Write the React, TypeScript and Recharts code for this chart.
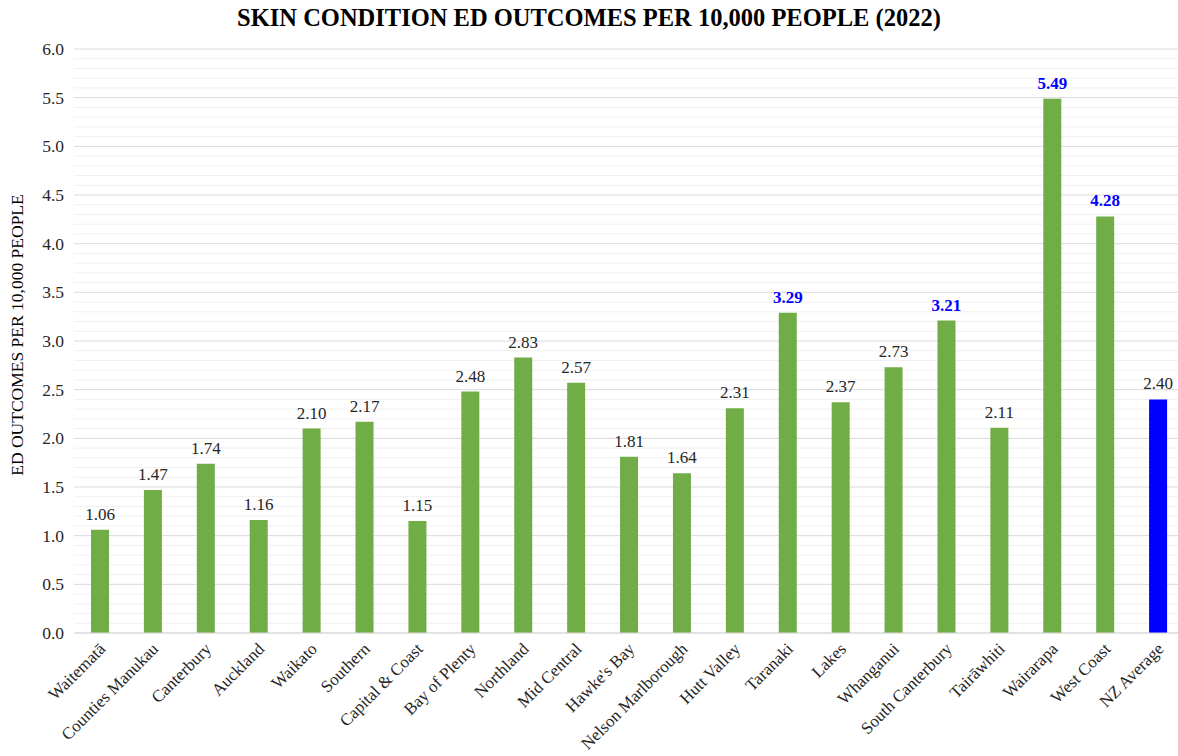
import { BarChart, Bar, XAxis, YAxis, CartesianGrid, LabelList, Cell } from 'recharts'

const regions = [
  'Waitematā', 'Counties Manukau', 'Canterbury', 'Auckland', 'Waikato', 'Southern',
  'Capital & Coast', 'Bay of Plenty', 'Northland', 'Mid Central', "Hawke's Bay",
  'Nelson Marlborough', 'Hutt Valley', 'Taranaki', 'Lakes', 'Whanganui',
  'South Canterbury', 'Tairāwhiti', 'Wairarapa', 'West Coast', 'NZ Average',
]
const outcomes = [
  1.06, 1.47, 1.74, 1.16, 2.10, 2.17, 1.15, 2.48, 2.83, 2.57, 1.81,
  1.64, 2.31, 3.29, 2.37, 2.73, 3.21, 2.11, 5.49, 4.28, 2.40,
]
const highlighted = ['Taranaki', 'South Canterbury', 'Wairarapa', 'West Coast']
const averageLabel = 'NZ Average'
const majorTicks = [0, 0.5, 1, 1.5, 2, 2.5, 3, 3.5, 4, 4.5, 5, 5.5, 6]
const minorTicks = [
  0.1, 0.2, 0.3, 0.4, 0.6, 0.7, 0.8, 0.9, 1.1, 1.2, 1.3, 1.4, 1.6, 1.7, 1.8, 1.9,
  2.1, 2.2, 2.3, 2.4, 2.6, 2.7, 2.8, 2.9, 3.1, 3.2, 3.3, 3.4, 3.6, 3.7, 3.8, 3.9,
  4.1, 4.2, 4.3, 4.4, 4.6, 4.7, 4.8, 4.9, 5.1, 5.2, 5.3, 5.4, 5.6, 5.7, 5.8, 5.9,
]
const allTicks = [...majorTicks, ...minorTicks].sort((a, b) => a - b)

const FONT = '"Liberation Serif", "Times New Roman", serif'

const data = regions.map((name, i) => ({ name, value: outcomes[i] }))

const isMajor = (v: number) => majorTicks.some((m) => Math.abs(m - v) < 1e-6)

function RegionTick(props: any) {
  const { x, y, payload } = props
  const px = x + 6
  const py = y + 9
  return (
    <text
      x={px}
      y={py}
      textAnchor="end"
      transform={`rotate(-45 ${px} ${py})`}
      style={{ fontFamily: FONT, fontSize: 17 }}
      fill="#262626"
    >
      {payload.value}
    </text>
  )
}

function ValueTick(props: any) {
  const { x, y, payload } = props
  if (!isMajor(payload.value)) return null
  return (
    <text x={x - 2} y={y} dy="0.35em" textAnchor="end" style={{ fontFamily: FONT, fontSize: 17.5 }} fill="#262626">
      {Number(payload.value).toFixed(1)}
    </text>
  )
}

function GridLine(props: any) {
  const { x1, x2, y1, y2, index } = props
  const major = isMajor(allTicks[index])
  return <line x1={x1} x2={x2} y1={y1} y2={y2} stroke={major ? '#d9d9d9' : '#f0f0f0'} strokeWidth={1} />
}

function ValueLabel(props: any) {
  const { x, y, width, value, index } = props
  const hot = highlighted.includes(regions[index])
  return (
    <text
      x={x + width / 2}
      y={y - 10}
      textAnchor="middle"
      style={{ fontFamily: FONT, fontSize: 17, fontWeight: hot ? 700 : 400 }}
      fill={hot ? '#0000ff' : '#262626'}
    >
      {Number(value).toFixed(2)}
    </text>
  )
}

export default function App() {
  return (
    <div style={{ position: 'absolute', left: 0, top: 0, width: 1178, height: 756, background: '#fff', overflow: 'hidden' }}>
      <div
        style={{
          height: 35,
          lineHeight: '36px',
          textAlign: 'center',
          fontFamily: FONT,
          fontWeight: 700,
          fontSize: 24.5,
          color: '#000',
        }}
      >
        SKIN CONDITION ED OUTCOMES PER 10,000 PEOPLE (2022)
      </div>
      <BarChart width={1185} height={721} data={data} margin={{ top: 14, right: 0, left: 0, bottom: 0 }}>
        <CartesianGrid vertical={false} horizontal={(p: any) => <GridLine key={p.key} {...p} />} />
        <XAxis
          dataKey="name"
          interval={0}
          height={123}
          tickLine={false}
          axisLine={{ stroke: '#d9d9d9' }}
          tick={<RegionTick />}
        />
        <YAxis
          width={74}
          domain={[0, 6]}
          ticks={allTicks}
          interval={0}
          axisLine={false}
          tickLine={false}
          tick={<ValueTick />}
          label={{
            value: 'ED OUTCOMES PER 10,000 PEOPLE',
            angle: -90,
            position: 'insideLeft',
            dx: 12,
            dy: -6,
            style: { fontFamily: FONT, fontSize: 17.5, fill: '#000', textAnchor: 'middle' },
          }}
        />
        <Bar dataKey="value" barSize={18} isAnimationActive={false}>
          {data.map((d) => (
            <Cell key={d.name} fill={d.name === averageLabel ? '#0000ff' : '#70ad47'} />
          ))}
          <LabelList dataKey="value" content={<ValueLabel />} />
        </Bar>
      </BarChart>
    </div>
  )
}
